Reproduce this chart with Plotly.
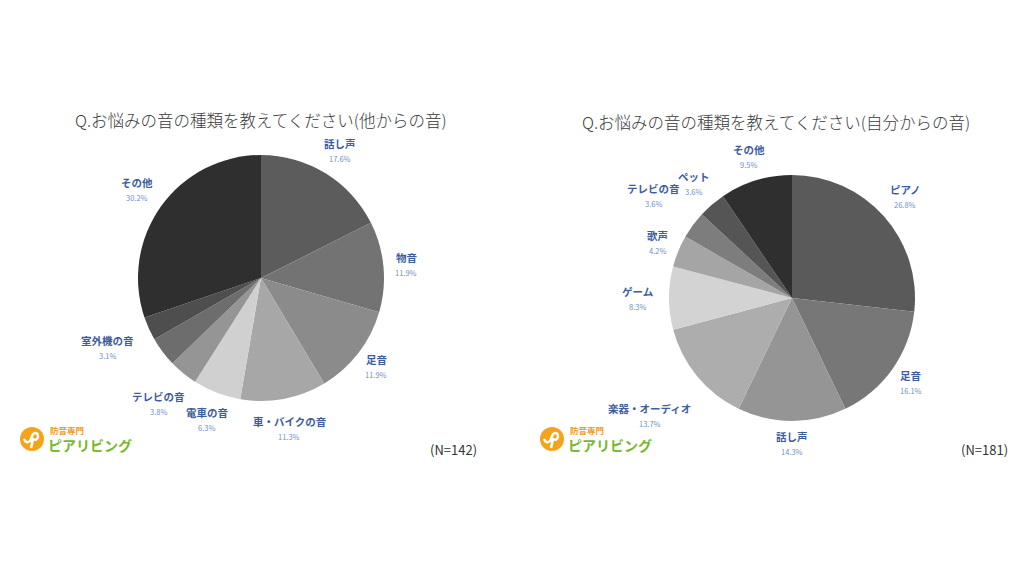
import math
import plotly.graph_objects as go

W, H = 1024, 572
OFF = 8  # page body margin compensation

# ---- data ----
left_title = "Q.お悩みの音の種類を教えてください(他からの音)"
left_labels = ["話し声", "物音", "足音", "車・バイクの音", "電車の音", "テレビの音", "(無表記)", "室外機の音", "その他"]
left_values = [17.6, 11.9, 11.9, 11.3, 6.3, 3.8, 3.9, 3.1, 30.2]
left_shown = [True, True, True, True, True, True, False, True, True]
left_colors = ["#5c5c5c", "#737373", "#8b8b8b", "#a7a7a7", "#d0d0d0", "#959595", "#6d6d6d", "#4e4e4e", "#2f2f2f"]
left_n = "(N=142)"

right_title = "Q.お悩みの音の種類を教えてください(自分からの音)"
right_labels = ["ピアノ", "足音", "話し声", "楽器・オーディオ", "ゲーム", "歌声", "テレビの音", "ペット", "その他"]
right_values = [26.8, 16.1, 14.3, 13.7, 8.3, 4.2, 3.6, 3.6, 9.5]
right_shown = [True] * 9
right_colors = ["#5a5a5a", "#777777", "#959595", "#adadad", "#d3d3d3", "#a5a5a5", "#7d7d7d", "#555555", "#2f2f2f"]
right_n = "(N=181)"

FONT = "Noto Sans CJK JP"
CAT_COLOR = "#3d5d9e"
PCT_COLOR = "#7090c4"


def px(x):
    return (x - OFF) / W


def py(y):
    return 1 - (y - OFF) / H


# pie geometry (pixels)
pies = [
    dict(cx=261, cy=278, r=123, labels=left_labels, values=left_values, shown=left_shown,
         colors=left_colors, title=left_title, ty=120, tx=261, n=left_n, nx=453, ny=449, lx=0),
    dict(cx=792, cy=298, r=123, labels=right_labels, values=right_values, shown=right_shown,
         colors=right_colors, title=right_title, ty=122, tx=776, n=right_n, nx=984, ny=449, lx=520),
]

fig = go.Figure()
annotations = []
shapes = []


def overlaps(a, b):
    return abs(a[0] - b[0]) < (a[2] + b[2]) / 2 and abs(a[1] - b[1]) < (a[3] + b[3]) / 2


for p in pies:
    cx, cy, r = p["cx"], p["cy"], p["r"]
    fig.add_trace(go.Pie(
        labels=p["labels"], values=p["values"], sort=False, direction="clockwise", rotation=0,
        marker=dict(colors=p["colors"], line=dict(width=0)),
        textinfo="none", hoverinfo="label+value", showlegend=False,
        domain=dict(x=[px(cx - r), px(cx + r)], y=[py(cy + r), py(cy - r)]),
    ))
    total = sum(p["values"])
    items = []
    cum = 0.0
    for lab, val, show in zip(p["labels"], p["values"], p["shown"]):
        mid = (cum + val / 2) / total * 2 * math.pi
        cum += val
        if show:
            items.append((lab, val, mid))
    placed = []
    # place labels counter-clockwise from the top, pushing outward on collision
    for lab, val, mid in reversed(items):
        w = len(lab) * 10.5
        d = r * 1.18 + 0.8 * (w - 20) * abs(math.sin(mid))
        while True:
            bx = cx + d * math.sin(mid)
            by = cy - d * math.cos(mid)
            box = (bx, by, w * 0.92, 27)
            if not any(overlaps(box, q) for q in placed):
                break
            d += 3
        placed.append(box)
        annotations.append(dict(x=px(bx), y=py(by - 7), xref="paper", yref="paper", text=f"<b>{lab}</b>",
                                showarrow=False, font=dict(family=FONT, size=10.5, color=CAT_COLOR),
                                xanchor="center", yanchor="middle"))
        annotations.append(dict(x=px(bx), y=py(by + 8), xref="paper", yref="paper", text=f"{val}%",
                                showarrow=False, font=dict(family=FONT, size=7.5, color=PCT_COLOR),
                                xanchor="center", yanchor="middle"))
    # title
    annotations.append(dict(x=px(p["tx"]), y=py(p["ty"]), xref="paper", yref="paper", text=p["title"],
                            showarrow=False, font=dict(family=FONT, size=16.5, color="#3a3a3a", weight=300),
                            xanchor="center", yanchor="middle"))
    # N
    annotations.append(dict(x=px(p["nx"]), y=py(p["ny"]), xref="paper", yref="paper", text=p["n"],
                            showarrow=False, font=dict(family=FONT, size=13, color="#333333"),
                            xanchor="center", yanchor="middle"))
    # logo
    lx = p["lx"]
    ccx, ccy, cr = 32 + lx, 439, 12
    shapes.append(dict(type="circle", xref="paper", yref="paper",
                       x0=px(ccx - cr), x1=px(ccx + cr), y0=py(ccy + cr), y1=py(ccy - cr),
                       fillcolor="#f4a31d", line=dict(width=0)))
    shapes.append(dict(type="path", xref="paper", yref="paper",
                       path=(f"M {px(ccx-8)} {py(ccy)} Q {px(ccx-6)} {py(ccy+5)} {px(ccx-2)} {py(ccy+2)} "
                             f"L {px(ccx+1)} {py(ccy-5)} Q {px(ccx+6)} {py(ccy-8)} {px(ccx+6)} {py(ccy-2)} "
                             f"Q {px(ccx+5)} {py(ccy+2)} {px(ccx+1)} {py(ccy)} L {px(ccx-1)} {py(ccy+9)}"),
                       line=dict(color="white", width=2.5)))
    annotations.append(dict(x=px(48 + lx), y=py(430), xref="paper", yref="paper", text="<b>防音専門</b>",
                            showarrow=False, font=dict(family=FONT, size=8.5, color="#f29a1a"),
                            xanchor="left", yanchor="middle"))
    annotations.append(dict(x=px(46 + lx), y=py(445), xref="paper", yref="paper", text="<b>ピアリビング</b>",
                            showarrow=False, font=dict(family=FONT, size=14, color="#76b82a"),
                            xanchor="left", yanchor="middle"))

fig.update_layout(
    width=W, height=H, margin=dict(l=0, r=0, t=0, b=0),
    paper_bgcolor="white", plot_bgcolor="white",
    annotations=annotations, shapes=shapes,
    font=dict(family=FONT),
)

fig.write_html("out.html")
